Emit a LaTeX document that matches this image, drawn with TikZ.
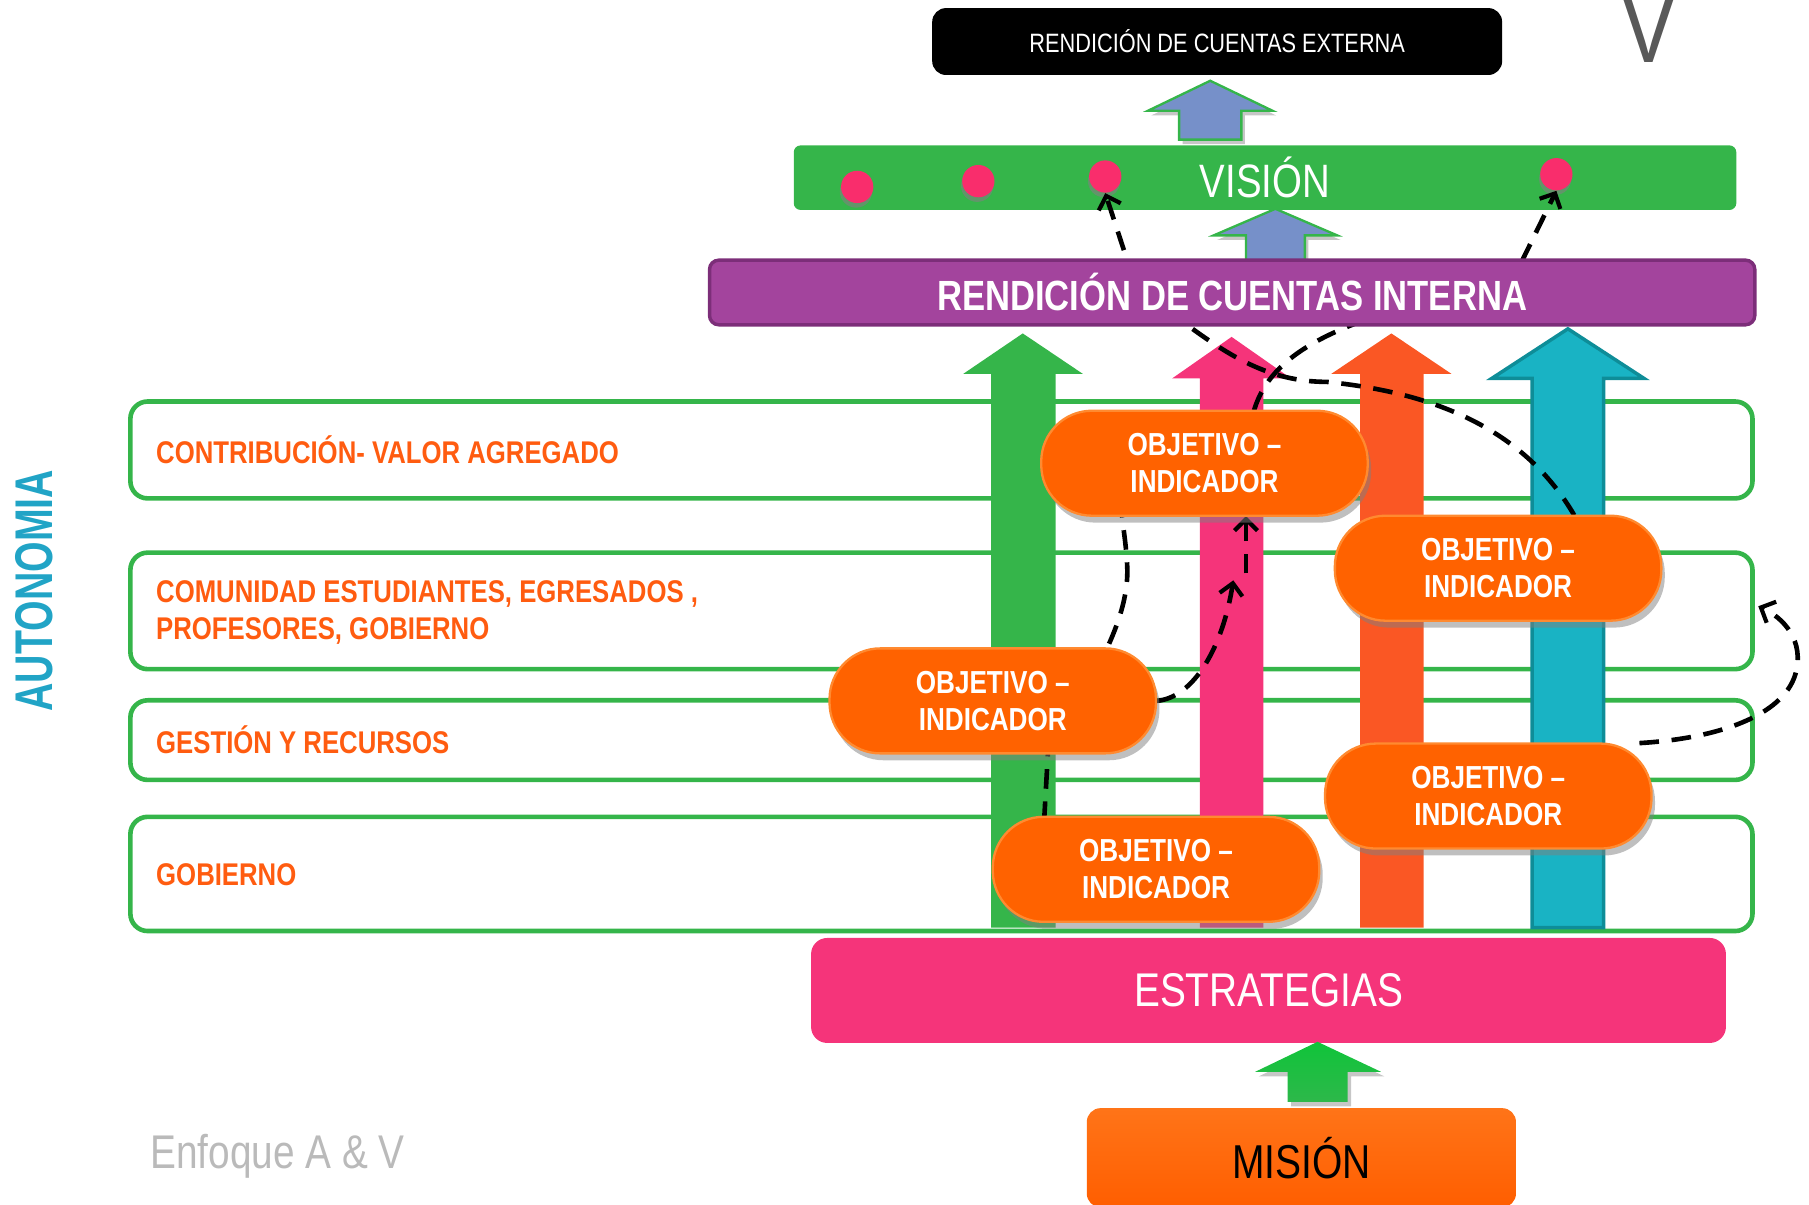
\documentclass[tikz,border=0pt]{standalone}
\usepackage{fontspec}
\setmainfont{Liberation Sans}
\newfontfamily\nf[FakeStretch=0.82]{Liberation Sans}
\newfontfamily\af[FakeStretch=0.74]{Liberation Sans}
\usetikzlibrary{arrows.meta,shadows,calc}
\definecolor{gr}{HTML}{35B54A}
\definecolor{pk}{HTML}{F5347A}
\definecolor{orr}{HTML}{FA5724}
\definecolor{tl}{HTML}{19B3C4}
\definecolor{tld}{HTML}{0E8D98}
\definecolor{pur}{HTML}{A3449D}
\definecolor{purd}{HTML}{7C2E79}
\definecolor{blu}{HTML}{7690C9}
\definecolor{pillc}{HTML}{FF6200}
\definecolor{pillb}{HTML}{FF8A30}
\definecolor{lab}{HTML}{FF5C10}
\definecolor{dotc}{HTML}{F92D6C}
\definecolor{autoc}{HTML}{21A4C6}
\definecolor{gbr}{HTML}{10C43A}
\definecolor{gbr2}{HTML}{2DB84A}
\definecolor{misa}{HTML}{FF7418}
\definecolor{misb}{HTML}{FF5E00}
\tikzset{
  band/.style={draw=gr, line width=2pt, rounded corners=7.5pt, minimum width=703pt, inner sep=0pt},
  lbl/.style={text=lab, font=\nf\bfseries\fontsize{13.6pt}{16pt}\selectfont, inner sep=0pt, align=left},
  pill/.style={rectangle, rounded corners=22pt, minimum width=141.5pt, minimum height=45.5pt,
    fill=pillc, draw=pillb, line width=1pt, text=white, align=center,
    font=\nf\bfseries\fontsize{13.8pt}{16pt}\selectfont,
    drop shadow={shadow xshift=1.5pt, shadow yshift=-3pt, opacity=0.5}},
  dotn/.style={circle, fill=dotc, minimum size=14pt, inner sep=0pt,
    drop shadow={shadow xshift=-0.5pt, shadow yshift=-2pt, opacity=0.6}},
  dashline/.style={draw=black, line width=2pt, dash pattern=on 8.5pt off 5.5pt},
  tip/.style={-{Straight Barb[length=5pt,width=10pt,line width=1.8pt]}},
  blockshadow/.style={drop shadow={shadow xshift=1.5pt, shadow yshift=-2pt, opacity=0.45}}
}
\begin{document}
\begin{tikzpicture}[x=0.5pt,y=-0.5pt]
\useasboundingbox (0,0) rectangle (1568,1044);
\clip (0,0) rectangle (1568,1044);

% big V (cut at top, as in the reference)
\node[anchor=base, inner sep=0pt, text=black!65, font=\nf\fontsize{45pt}{45pt}\selectfont] (bigv) at (1429,54) {V};

% bands
\node[band, minimum height=42pt] (b1) at (816,390) {};
\node[band, minimum height=50.5pt] (b2) at (816,529.5) {};
\node[band, minimum height=34.5pt] (b3) at (816,641.5) {};
\node[band, minimum height=49.5pt] (b4) at (816,757.5) {};
\node[lbl, anchor=west] (l1) at (135,390) {CONTRIBUCIÓN- VALOR AGREGADO};
\node[lbl, anchor=west] (l2) at (135,531) {COMUNIDAD ESTUDIANTES, EGRESADOS ,\\PROFESORES, GOBIERNO};
\node[lbl, anchor=west] (l3) at (135,641) {GESTIÓN Y RECURSOS};
\node[lbl, anchor=west] (l4) at (135,758) {GOBIERNO};

% AUTONOMIA
\node[rotate=90, text=autoc, font=\af\bfseries\fontsize{23pt}{23pt}\selectfont, inner sep=0pt] (auto) at (30,512) {AUTONOMIA};

% vertical arrows
\fill[gr] (859,804) -- (859,324) -- (835,324) -- (886.5,289) -- (938.5,324) -- (915,324) -- (915,804) -- cycle;
\fill[pk] (1040,804) -- (1040,328) -- (1016,328) -- (1067.5,292) -- (1119,328) -- (1095,328) -- (1095,804) -- cycle;
\fill[orr] (1179,804) -- (1179,324) -- (1154,324) -- (1206,289) -- (1258,324) -- (1234,324) -- (1234,804) -- cycle;
\filldraw[fill=tl, draw=tld, line width=1.5pt] (1328,804) -- (1328,328) -- (1293,328) -- (1359,285) -- (1425,328) -- (1390,328) -- (1390,804) -- cycle;

% VISION bar
\node[fill=gr, rounded corners=3pt, minimum width=408.5pt, minimum height=28pt, inner sep=0pt,
  text=white, font=\nf\fontsize{20.3pt}{22pt}\selectfont] (vision) at (1096.5,154) {VISIÓN};

% black box
\node[fill=black, rounded corners=6pt, minimum width=247pt, minimum height=29pt, inner sep=0pt,
  text=white, font=\nf\fontsize{11.5pt}{13pt}\selectfont] (ext) at (1055,36) {RENDICIÓN DE CUENTAS EXTERNA};

% blue arrows
\filldraw[fill=blu, draw=gr, line width=1pt, blockshadow] (1022,121) -- (1022,96) -- (995,96) -- (1049,70) -- (1103,96) -- (1076,96) -- (1076,121) -- cycle;
\filldraw[fill=blu, draw=gr, line width=1pt, blockshadow] (1080,240) -- (1080,204) -- (1052,204) -- (1105.5,181) -- (1159,204) -- (1131,204) -- (1131,240) -- cycle;

% pill positions
\coordinate (pAc) at (1044,401.5);
\coordinate (pBc) at (1298.5,492.5);
\coordinate (pCc) at (860.5,607.5);
\coordinate (pDc) at (1290,690);
\coordinate (pEc) at (1002,753.5);

% dots
\node[dotn] (d1) at (743,162) {};
\node[dotn] (d2) at (848,157) {};
\node[dotn] (d3) at (958,153) {};
\node[dotn] (d4) at (1349,151) {};

% invisible pill geometry for connector anchors
\begin{scope}[every node/.style={rectangle, minimum width=141.5pt, minimum height=45.5pt, inner sep=0pt}]
\node (qA) at (pAc) {};
\node (qB) at (pBc) {};
\node (qC) at (pCc) {};
\node (qD) at (pDc) {};
\node (qE) at (pEc) {};
\end{scope}
\coordinate (w1) at (1069,503);
\coordinate (w2) at (1080,497);

% dashed connectors
\draw[dashline] ($(qE.north)+(-97,4)$) -- ($(qC.south)+(48,-4)$)
  .. controls (940,600) and (980,540) .. (977,490)
  .. controls (976,470) and (973,455) .. ($(qA.south)+(-72,-6)$);
\draw[dashline, tip] (qC.east) .. controls (1035,605) and (1060,560) .. (w1);
\draw[dashline, tip] (w2) -- ($(qA.south)+(36,0)$);
\draw[dashline, tip] ($(qB.north)+(66,0)$) .. controls (1320,370) and (1240,340) .. (1150,331)
  .. controls (1100,331) and (1065,308) .. (1028,281) -- (985,250) -- (d3.south);
\draw[dashline, tip] ($(qA.north)+(43,0)$) .. controls (1102,305) and (1160,283) .. (1230,262)
  -- (1310,245) -- (d4.south);
\draw[dashline, tip] ($(qD.north)+(131,0)$) .. controls (1490,640) and (1545,620) .. (1556,585)
  .. controls (1565,555) and (1545,535) .. ($(b2.east)+(3,-4)$);

% pills
\node[pill] (pA) at (pAc) {OBJETIVO –\\INDICADOR};
\node[pill] (pB) at (pBc) {OBJETIVO –\\INDICADOR};
\node[pill] (pC) at (pCc) {OBJETIVO –\\INDICADOR};
\node[pill] (pD) at (pDc) {OBJETIVO –\\INDICADOR};
\node[pill] (pE) at (pEc) {OBJETIVO –\\INDICADOR};

% purple bar
\node[fill=pur, draw=purd, line width=1.5pt, rounded corners=4pt, minimum width=453pt, minimum height=28pt, inner sep=0pt,
  text=white, font=\nf\bfseries\fontsize{18.3pt}{20pt}\selectfont] (int) at (1068,253.5) {RENDICIÓN DE CUENTAS INTERNA};

% ESTRATEGIAS
\node[fill=pk, rounded corners=7pt, minimum width=396.5pt, minimum height=45.5pt, inner sep=0pt,
  text=white, font=\nf\fontsize{20.5pt}{22pt}\selectfont] (estr) at (1099.5,858.5) {\raisebox{-1.5pt}{ESTRATEGIAS}};

% green arrow
\path[top color=gbr, bottom color=gbr2, blockshadow] (1116,955) -- (1116,929) -- (1088,929) -- (1142,903) -- (1197,929) -- (1168,929) -- (1168,955) -- cycle;

% MISION
\node[top color=misa, bottom color=misb, rounded corners=6pt, minimum width=186pt, minimum height=43pt, inner sep=0pt,
  text=black, font=\nf\fontsize{20.6pt}{22pt}\selectfont] (mis) at (1128,1003.5) {MISIÓN};

% Enfoque
\node[anchor=base west, inner sep=0pt, text=black!27, font=\nf\fontsize{20.5pt}{22pt}\selectfont] (enf) at (130,1013) {Enfoque A \& V};
\end{tikzpicture}
\end{document}
